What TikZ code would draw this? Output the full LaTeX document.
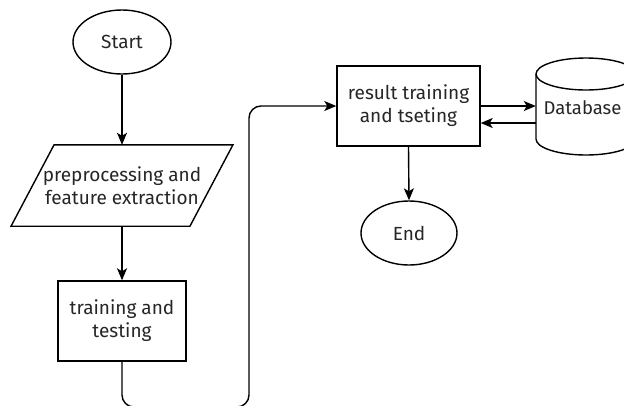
\documentclass[tikz,border=0pt]{standalone}
\usepackage{fontspec}
\setmainfont{Fira Sans}
\usetikzlibrary{shapes.geometric,arrows.meta,calc}

\tikzset{
  flowline/.style={line width=1.4pt, draw=black},
  arrowline/.style={flowline, -{Stealth[length=12pt,width=10pt,inset=3pt]}},
  label/.style={text=black!85, font=\fontsize{19}{23}\selectfont, align=center, inner sep=0pt},
  terminal/.style={label, ellipse, draw, line width=1.4pt},
  processbox/.style={label, rectangle, draw, line width=1.4pt},
  iobox/.style={label, rectangle},
}

\begin{document}
\begin{tikzpicture}[x=1pt,y=-1pt]
\useasboundingbox (0,0) rectangle (624,405);
\clip (0,0) rectangle (624,405);
\fill[white] (0,0) rectangle (624,405);

% flow nodes
\node[terminal, minimum width=98pt, minimum height=64pt] (start) at (122,42) {Start};
\node[iobox, minimum width=178.5pt, minimum height=81pt] (prep) at (122,185.5)
  {preprocessing and\\feature extraction};
\draw[flowline] ($(prep.north west)+(21.5,0)$) -- ($(prep.north east)+(21.5,0)$)
  -- ($(prep.south east)+(-21.5,0)$) -- ($(prep.south west)+(-21.5,0)$) -- cycle;
\node[processbox, minimum width=128pt, minimum height=80pt] (train) at (122,321)
  {training and\\testing};
\node[processbox, minimum width=143pt, minimum height=80pt] (result) at (408.5,106)
  {result training\\and tseting};
\node[terminal, minimum width=96pt, minimum height=64pt] (end) at (409,233) {End};

% database cylinder (body, then the top cap)
\node[iobox, minimum width=100pt, minimum height=97pt] (db) at (586,106.5) {};
\draw[flowline] (536,74) -- (536,139) arc[start angle=180, end angle=0, x radius=50, y radius=16]
  -- (636,74);
\draw[flowline] (586,74) ellipse[x radius=50, y radius=16];
\node[label, font=\fontsize{18.5}{23}\selectfont] (dblabel) at (582.5,108) {Database};

% connectors
\draw[arrowline] (start) -- (prep.north);
\draw[arrowline] (prep.south) -- (train.north);
\coordinate (loopturn) at (249,407);
\draw[arrowline, rounded corners=12pt] (train.south) |- (loopturn) |- (result.west);
\draw[arrowline] (result.east) -- (result.east -| db.west);
\draw[arrowline] ($(db.west)+(0,16.5)$) -- ($(result.east)+(0,17)$);
\draw[arrowline] (result.south) -- (end.north);
\end{tikzpicture}
\end{document}
